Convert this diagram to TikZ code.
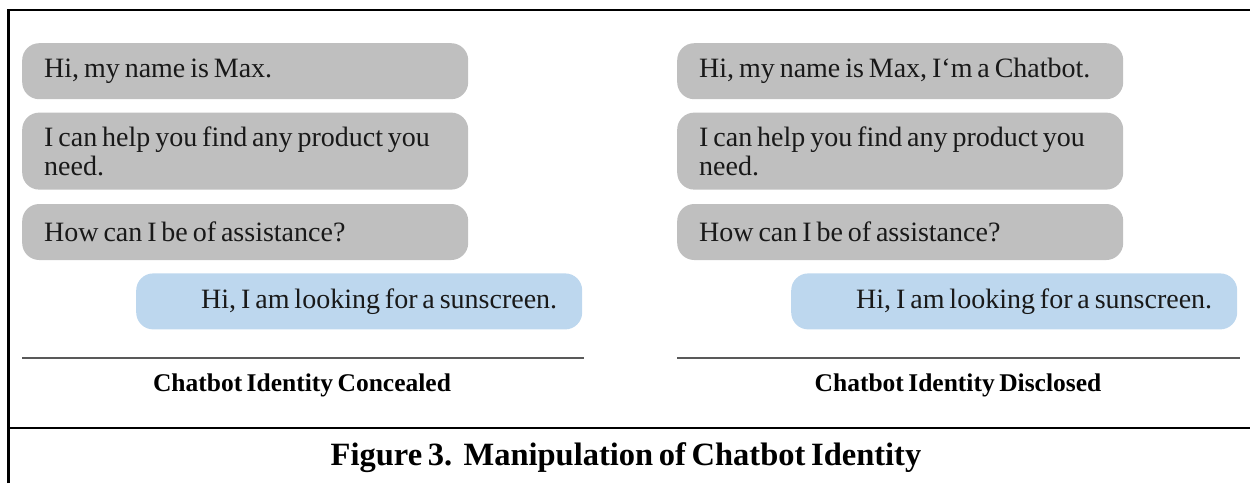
\documentclass[tikz,border=0pt]{standalone}
\usepackage{fontspec}
\setmainfont{Liberation Serif}[WordSpace=0.7]
\usetikzlibrary{positioning}

\definecolor{botgray}{HTML}{BFBFBF}
\definecolor{userblue}{HTML}{BDD7EE}
\definecolor{rulegray}{HTML}{595959}

\begin{document}
\begin{tikzpicture}[%
    x=1pt, y=-1pt,              % work in pixels, y runs downwards
    node distance=13pt,         % gap between two chat bubbles
    ]
% -------------------------------------------------
% Bubble and text styles
\tikzset{
  bubble/.style={rectangle, rounded corners=17pt, minimum height=56pt,
    text=black!90, font={\fontsize{28pt}{29.5pt}\selectfont}},
  botmsg/.style={bubble, fill=botgray, align=flush left, text width=402pt, inner xsep=22pt},
  usermsg/.style={bubble, fill=userblue, align=flush right, text width=396pt, inner xsep=25pt},
  % captions below each conversation
  caption/.style={font={\fontsize{25.5pt}{27pt}\selectfont\bfseries}},
  figtitle/.style={font={\fontsize{32.5pt}{34pt}\selectfont\bfseries}},
  % -------------------------------------------------
  % Line styles
  frame/.style={line width=2.5pt},
  rule/.style={rulegray, line width=1.5pt}
}
\useasboundingbox (0,0) rectangle (1250,483);
% -------------------------------------------------
% Frame round the figure
\draw[frame] (8.5,483) -- (8.5,10) -- (1250,10);
\draw[frame] (8.5,428) -- (1250,428);

% Left conversation: identity concealed
\node [botmsg, anchor=north west] (l1) at (22,43) {Hi, my name is Max.};
\node [botmsg, below=of l1, minimum height=77pt] (l2) {I can help you find any product you\\need.};
\node [botmsg, below=14pt of l2] (l3) {How can I be of assistance?};
\node [usermsg, below=of l3.south east, anchor=north east, xshift=114pt] (l4) {Hi, I am looking for a sunscreen.};

% Right conversation: identity disclosed
\node [botmsg, anchor=north west] (r1) at (677,43) {Hi, my name is Max, I‘m a Chatbot.};
\node [botmsg, below=of r1, minimum height=77pt] (r2) {I can help you find any product you\\need.};
\node [botmsg, below=14pt of r2] (r3) {How can I be of assistance?};
\node [usermsg, below=of r3.south east, anchor=north east, xshift=114pt] (r4) {Hi, I am looking for a sunscreen.};

% Rules and captions
\coordinate (lrule-w) at (22,358);
\coordinate (lrule-e) at (584,358);
\coordinate (rrule-w) at (677,358);
\coordinate (rrule-e) at (1240,358);
\draw[rule] (lrule-w) -- (lrule-e);
\draw[rule] (rrule-w) -- (rrule-e);

\node [caption] (lcap) at (302,385) {Chatbot Identity Concealed};
\node [caption] (rcap) at (958,385) {Chatbot Identity Disclosed};

% Figure title
\node [figtitle] (title) at (626,458) {Figure 3.\ \ Manipulation of Chatbot Identity};

\end{tikzpicture}
\end{document}
